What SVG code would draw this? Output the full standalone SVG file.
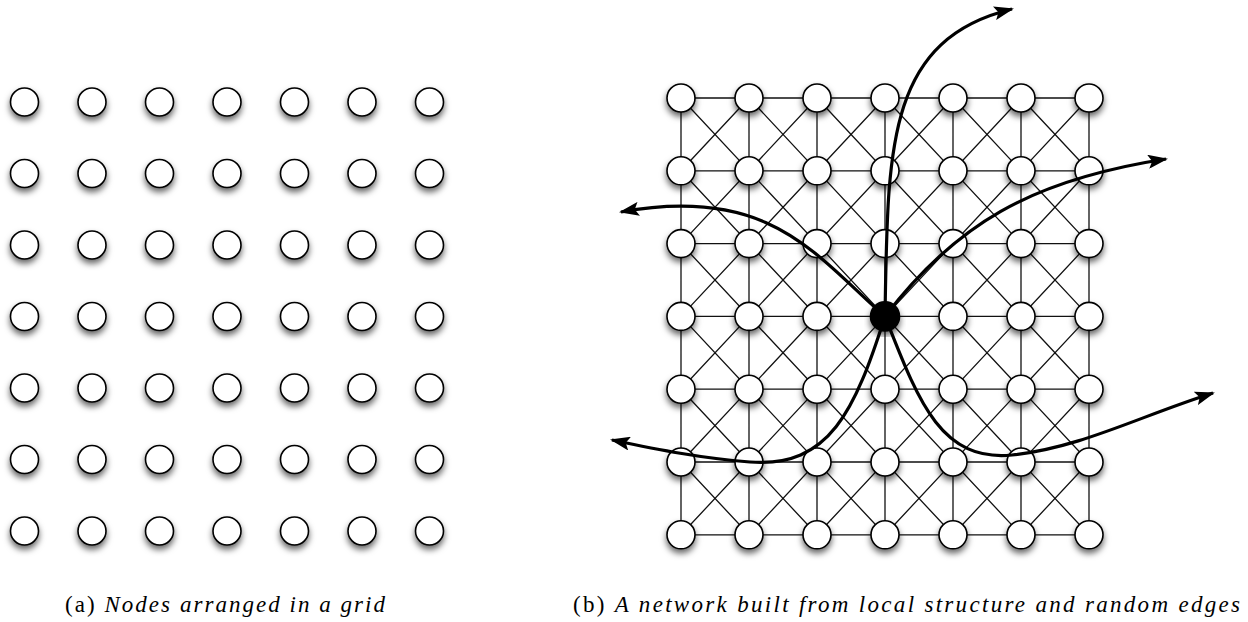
<svg xmlns="http://www.w3.org/2000/svg" width="1248" height="622" viewBox="0 0 1248 622">
<style>
.n{fill:#fff;stroke:#000;stroke-width:1.6}
.f{fill:#000;stroke:#000;stroke-width:1.6}
.e{fill:none;stroke:#111;stroke-width:1.3}
.r{fill:none;stroke:#000;stroke-width:3.2;marker-end:url(#ah)}
.cap{font-family:"Liberation Serif","DejaVu Serif",serif;font-size:23px;fill:#000}
.it{font-style:italic}
</style>
<defs>
<filter id="sh" x="-20%" y="-20%" width="140%" height="140%">
<feDropShadow dx="0" dy="4" stdDeviation="3" flood-color="#000" flood-opacity="0.6"/>
</filter>
<marker id="ah" viewBox="0 0 20 14" refX="18" refY="7" markerWidth="20" markerHeight="14" markerUnits="userSpaceOnUse" orient="auto">
<path d="M0,0 L20,7 L0,14 L4,7 z" fill="#000"/>
</marker>
</defs>
<rect width="1248" height="622" fill="#fff"/>

<g id="gridA" filter="url(#sh)">
<g id="a-0-0"><circle class="n" cx="24.5" cy="102" r="14"/></g>
<g id="a-0-1"><circle class="n" cx="92" cy="102" r="14"/></g>
<g id="a-0-2"><circle class="n" cx="159.5" cy="102" r="14"/></g>
<g id="a-0-3"><circle class="n" cx="227" cy="102" r="14"/></g>
<g id="a-0-4"><circle class="n" cx="294.5" cy="102" r="14"/></g>
<g id="a-0-5"><circle class="n" cx="362" cy="102" r="14"/></g>
<g id="a-0-6"><circle class="n" cx="429.5" cy="102" r="14"/></g>
<g id="a-1-0"><circle class="n" cx="24.5" cy="173.5" r="14"/></g>
<g id="a-1-1"><circle class="n" cx="92" cy="173.5" r="14"/></g>
<g id="a-1-2"><circle class="n" cx="159.5" cy="173.5" r="14"/></g>
<g id="a-1-3"><circle class="n" cx="227" cy="173.5" r="14"/></g>
<g id="a-1-4"><circle class="n" cx="294.5" cy="173.5" r="14"/></g>
<g id="a-1-5"><circle class="n" cx="362" cy="173.5" r="14"/></g>
<g id="a-1-6"><circle class="n" cx="429.5" cy="173.5" r="14"/></g>
<g id="a-2-0"><circle class="n" cx="24.5" cy="245" r="14"/></g>
<g id="a-2-1"><circle class="n" cx="92" cy="245" r="14"/></g>
<g id="a-2-2"><circle class="n" cx="159.5" cy="245" r="14"/></g>
<g id="a-2-3"><circle class="n" cx="227" cy="245" r="14"/></g>
<g id="a-2-4"><circle class="n" cx="294.5" cy="245" r="14"/></g>
<g id="a-2-5"><circle class="n" cx="362" cy="245" r="14"/></g>
<g id="a-2-6"><circle class="n" cx="429.5" cy="245" r="14"/></g>
<g id="a-3-0"><circle class="n" cx="24.5" cy="316.5" r="14"/></g>
<g id="a-3-1"><circle class="n" cx="92" cy="316.5" r="14"/></g>
<g id="a-3-2"><circle class="n" cx="159.5" cy="316.5" r="14"/></g>
<g id="a-3-3"><circle class="n" cx="227" cy="316.5" r="14"/></g>
<g id="a-3-4"><circle class="n" cx="294.5" cy="316.5" r="14"/></g>
<g id="a-3-5"><circle class="n" cx="362" cy="316.5" r="14"/></g>
<g id="a-3-6"><circle class="n" cx="429.5" cy="316.5" r="14"/></g>
<g id="a-4-0"><circle class="n" cx="24.5" cy="388" r="14"/></g>
<g id="a-4-1"><circle class="n" cx="92" cy="388" r="14"/></g>
<g id="a-4-2"><circle class="n" cx="159.5" cy="388" r="14"/></g>
<g id="a-4-3"><circle class="n" cx="227" cy="388" r="14"/></g>
<g id="a-4-4"><circle class="n" cx="294.5" cy="388" r="14"/></g>
<g id="a-4-5"><circle class="n" cx="362" cy="388" r="14"/></g>
<g id="a-4-6"><circle class="n" cx="429.5" cy="388" r="14"/></g>
<g id="a-5-0"><circle class="n" cx="24.5" cy="459.5" r="14"/></g>
<g id="a-5-1"><circle class="n" cx="92" cy="459.5" r="14"/></g>
<g id="a-5-2"><circle class="n" cx="159.5" cy="459.5" r="14"/></g>
<g id="a-5-3"><circle class="n" cx="227" cy="459.5" r="14"/></g>
<g id="a-5-4"><circle class="n" cx="294.5" cy="459.5" r="14"/></g>
<g id="a-5-5"><circle class="n" cx="362" cy="459.5" r="14"/></g>
<g id="a-5-6"><circle class="n" cx="429.5" cy="459.5" r="14"/></g>
<g id="a-6-0"><circle class="n" cx="24.5" cy="531" r="14"/></g>
<g id="a-6-1"><circle class="n" cx="92" cy="531" r="14"/></g>
<g id="a-6-2"><circle class="n" cx="159.5" cy="531" r="14"/></g>
<g id="a-6-3"><circle class="n" cx="227" cy="531" r="14"/></g>
<g id="a-6-4"><circle class="n" cx="294.5" cy="531" r="14"/></g>
<g id="a-6-5"><circle class="n" cx="362" cy="531" r="14"/></g>
<g id="a-6-6"><circle class="n" cx="429.5" cy="531" r="14"/></g>
</g>

<g id="connectors-local">
<path class="e" d="M681,98H1089M681,170.8H1089M681,243.6H1089M681,316.4H1089M681,389.2H1089M681,462H1089M681,534.8H1089
M681,98V534.8M749,98V534.8M817,98V534.8M885,98V534.8M953,98V534.8M1021,98V534.8M1089,98V534.8
M681,98L1089,534.8M749,98L1089,462M817,98L1089,389.2M885,98L1089,316.4M953,98L1089,243.6M1021,98L1089,170.8
M681,170.8L1021,534.8M681,243.6L953,534.8M681,316.4L885,534.8M681,389.2L817,534.8M681,462L749,534.8
M749,98L681,170.8M817,98L681,243.6M885,98L681,316.4M953,98L681,389.2M1021,98L681,462M1089,98L681,534.8
M1089,170.8L749,534.8M1089,243.6L817,534.8M1089,316.4L885,534.8M1089,389.2L953,534.8M1089,462L1021,534.8"/>
</g>

<g id="gridB" filter="url(#sh)">
<g id="b-0-0"><circle class="n" cx="681" cy="98" r="14"/></g>
<g id="b-0-1"><circle class="n" cx="749" cy="98" r="14"/></g>
<g id="b-0-2"><circle class="n" cx="817" cy="98" r="14"/></g>
<g id="b-0-3"><circle class="n" cx="885" cy="98" r="14"/></g>
<g id="b-0-4"><circle class="n" cx="953" cy="98" r="14"/></g>
<g id="b-0-5"><circle class="n" cx="1021" cy="98" r="14"/></g>
<g id="b-0-6"><circle class="n" cx="1089" cy="98" r="14"/></g>
<g id="b-1-0"><circle class="n" cx="681" cy="170.8" r="14"/></g>
<g id="b-1-1"><circle class="n" cx="749" cy="170.8" r="14"/></g>
<g id="b-1-2"><circle class="n" cx="817" cy="170.8" r="14"/></g>
<g id="b-1-3"><circle class="n" cx="885" cy="170.8" r="14"/></g>
<g id="b-1-4"><circle class="n" cx="953" cy="170.8" r="14"/></g>
<g id="b-1-5"><circle class="n" cx="1021" cy="170.8" r="14"/></g>
<g id="b-1-6"><circle class="n" cx="1089" cy="170.8" r="14"/></g>
<g id="b-2-0"><circle class="n" cx="681" cy="243.6" r="14"/></g>
<g id="b-2-1"><circle class="n" cx="749" cy="243.6" r="14"/></g>
<g id="b-2-2"><circle class="n" cx="817" cy="243.6" r="14"/></g>
<g id="b-2-3"><circle class="n" cx="885" cy="243.6" r="14"/></g>
<g id="b-2-4"><circle class="n" cx="953" cy="243.6" r="14"/></g>
<g id="b-2-5"><circle class="n" cx="1021" cy="243.6" r="14"/></g>
<g id="b-2-6"><circle class="n" cx="1089" cy="243.6" r="14"/></g>
<g id="b-3-0"><circle class="n" cx="681" cy="316.4" r="14"/></g>
<g id="b-3-1"><circle class="n" cx="749" cy="316.4" r="14"/></g>
<g id="b-3-2"><circle class="n" cx="817" cy="316.4" r="14"/></g>
<g id="b-3-4"><circle class="n" cx="953" cy="316.4" r="14"/></g>
<g id="b-3-5"><circle class="n" cx="1021" cy="316.4" r="14"/></g>
<g id="b-3-6"><circle class="n" cx="1089" cy="316.4" r="14"/></g>
<g id="b-4-0"><circle class="n" cx="681" cy="389.2" r="14"/></g>
<g id="b-4-1"><circle class="n" cx="749" cy="389.2" r="14"/></g>
<g id="b-4-2"><circle class="n" cx="817" cy="389.2" r="14"/></g>
<g id="b-4-3"><circle class="n" cx="885" cy="389.2" r="14"/></g>
<g id="b-4-4"><circle class="n" cx="953" cy="389.2" r="14"/></g>
<g id="b-4-5"><circle class="n" cx="1021" cy="389.2" r="14"/></g>
<g id="b-4-6"><circle class="n" cx="1089" cy="389.2" r="14"/></g>
<g id="b-5-0"><circle class="n" cx="681" cy="462" r="14"/></g>
<g id="b-5-1"><circle class="n" cx="749" cy="462" r="14"/></g>
<g id="b-5-2"><circle class="n" cx="817" cy="462" r="14"/></g>
<g id="b-5-3"><circle class="n" cx="885" cy="462" r="14"/></g>
<g id="b-5-4"><circle class="n" cx="953" cy="462" r="14"/></g>
<g id="b-5-5"><circle class="n" cx="1021" cy="462" r="14"/></g>
<g id="b-5-6"><circle class="n" cx="1089" cy="462" r="14"/></g>
<g id="b-6-0"><circle class="n" cx="681" cy="534.8" r="14"/></g>
<g id="b-6-1"><circle class="n" cx="749" cy="534.8" r="14"/></g>
<g id="b-6-2"><circle class="n" cx="817" cy="534.8" r="14"/></g>
<g id="b-6-3"><circle class="n" cx="885" cy="534.8" r="14"/></g>
<g id="b-6-4"><circle class="n" cx="953" cy="534.8" r="14"/></g>
<g id="b-6-5"><circle class="n" cx="1021" cy="534.8" r="14"/></g>
<g id="b-6-6"><circle class="n" cx="1089" cy="534.8" r="14"/></g>
</g>

<g id="connectors-random">
<path class="r" d="M885,316.4 C888,150 885,40 1012,9"/>
<path class="r" d="M885,316.4 C955,225 1030,180 1166,159"/>
<path class="r" d="M885,316.4 C815,255 770,185 621,212"/>
<path class="r" d="M885,316.4 C855,410 830,468 750,462 C700,458 660,450 612,440"/>
<path class="r" d="M885,316.4 C918,400 940,462 1012,455 C1080,448 1140,416 1213,393"/>
</g>

<g id="b-3-3" filter="url(#sh)"><circle class="f" cx="885" cy="316.4" r="14.5"/></g>

<g id="captions">
<text class="cap" x="65" y="612" textLength="320" lengthAdjust="spacing">(a) <tspan class="it">Nodes arranged in a grid</tspan></text>
<text class="cap" x="573" y="612" textLength="667" lengthAdjust="spacing">(b) <tspan class="it">A network built from local structure and random edges</tspan></text>
</g>
</svg>
